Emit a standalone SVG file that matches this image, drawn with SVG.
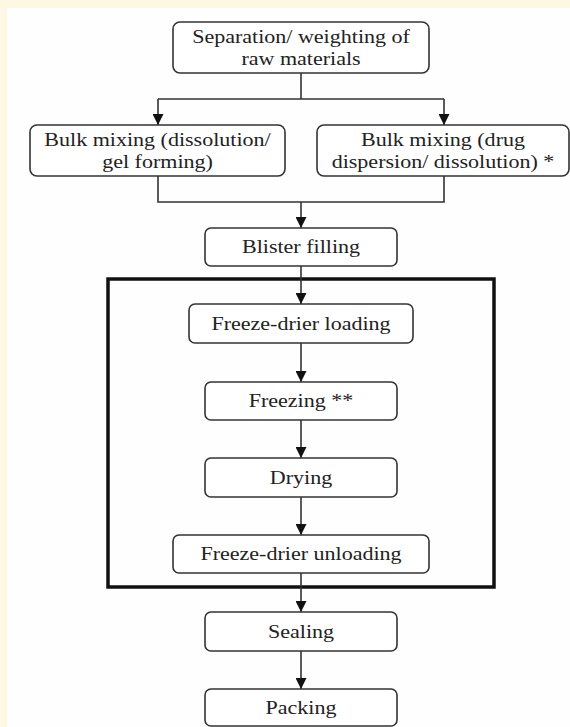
<svg xmlns="http://www.w3.org/2000/svg" width="570" height="727" viewBox="0 0 570 727">
<style>
.box{fill:#ffffff;stroke:#333333;stroke-width:1.6}
.t{font-family:"Liberation Serif","Times New Roman",serif;font-size:19px;fill:#222222;text-anchor:middle}
.c{fill:none;stroke:#333333;stroke-width:1.6}
.frame{fill:none;stroke:#111111;stroke-width:3.5}
</style>
<defs>
<marker id="ah" markerUnits="userSpaceOnUse" markerWidth="11" markerHeight="11" viewBox="0 0 10 10" refX="10" refY="5" orient="auto">
<path d="M0,0 L10,5 L0,10 z" fill="#111111"/>
</marker>
</defs>
<rect x="0" y="0" width="570" height="727" fill="#fcf8e4"/>
<rect x="7" y="8" width="563" height="719" fill="#fefefe"/>
<rect class="frame" x="108" y="279" width="386" height="308"/>
<g id="connectors">
<path class="c" d="M301,73 V99 M158,99 H444"/>
<path class="c" d="M158,99 V125" marker-end="url(#ah)"/>
<path class="c" d="M444,99 V125" marker-end="url(#ah)"/>
<path class="c" d="M158,176 V202 H444 V176"/>
<path class="c" d="M301,202 V228" marker-end="url(#ah)"/>
<path class="c" d="M301,266 V304" marker-end="url(#ah)"/>
<path class="c" d="M301,343 V382" marker-end="url(#ah)"/>
<path class="c" d="M301,420 V458" marker-end="url(#ah)"/>
<path class="c" d="M301,497 V535" marker-end="url(#ah)"/>
<path class="c" d="M301,573 V612" marker-end="url(#ah)"/>
<path class="c" d="M301,651 V689" marker-end="url(#ah)"/>
</g>
<g id="n1">
<rect class="box" x="173" y="22" width="256" height="51" rx="7"/>
<text class="t" transform="translate(301 0) scale(1.16 1)" x="0" y="43.5">Separation/ weighting of</text>
<text class="t" transform="translate(301 0) scale(1.16 1)" x="0" y="65.5">raw materials</text>
</g>
<g id="n2">
<rect class="box" x="30" y="125" width="255" height="51" rx="7"/>
<text class="t" transform="translate(157.5 0) scale(1.16 1)" x="0" y="146">Bulk mixing (dissolution/</text>
<text class="t" transform="translate(157.5 0) scale(1.16 1)" x="0" y="168">gel forming)</text>
</g>
<g id="n3">
<rect class="box" x="317" y="125" width="252" height="51" rx="7"/>
<text class="t" transform="translate(443 0) scale(1.16 1)" x="0" y="146">Bulk mixing (drug</text>
<text class="t" transform="translate(443 0) scale(1.16 1)" x="0" y="168">dispersion/ dissolution) *</text>
</g>
<g id="n4">
<rect class="box" x="205" y="228" width="192" height="38" rx="6"/>
<text class="t" transform="translate(301 0) scale(1.16 1)" x="0" y="253.3">Blister filling</text>
</g>
<g id="n5">
<rect class="box" x="189" y="304" width="224" height="39" rx="6"/>
<text class="t" transform="translate(301 0) scale(1.16 1)" x="0" y="329.8">Freeze-drier loading</text>
</g>
<g id="n6">
<rect class="box" x="205" y="382" width="192" height="38" rx="6"/>
<text class="t" transform="translate(301 0) scale(1.16 1)" x="0" y="407.3">Freezing **</text>
</g>
<g id="n7">
<rect class="box" x="205" y="458" width="192" height="39" rx="6"/>
<text class="t" transform="translate(301 0) scale(1.16 1)" x="0" y="483.8">Drying</text>
</g>
<g id="n8">
<rect class="box" x="173" y="535" width="256" height="38" rx="6"/>
<text class="t" transform="translate(301 0) scale(1.16 1)" x="0" y="560.3">Freeze-drier unloading</text>
</g>
<g id="n9">
<rect class="box" x="205" y="612" width="192" height="39" rx="6"/>
<text class="t" transform="translate(301 0) scale(1.16 1)" x="0" y="637.8">Sealing</text>
</g>
<g id="n10">
<rect class="box" x="205" y="689" width="192" height="37" rx="6"/>
<text class="t" transform="translate(301 0) scale(1.16 1)" x="0" y="714.3">Packing</text>
</g>
</svg>
